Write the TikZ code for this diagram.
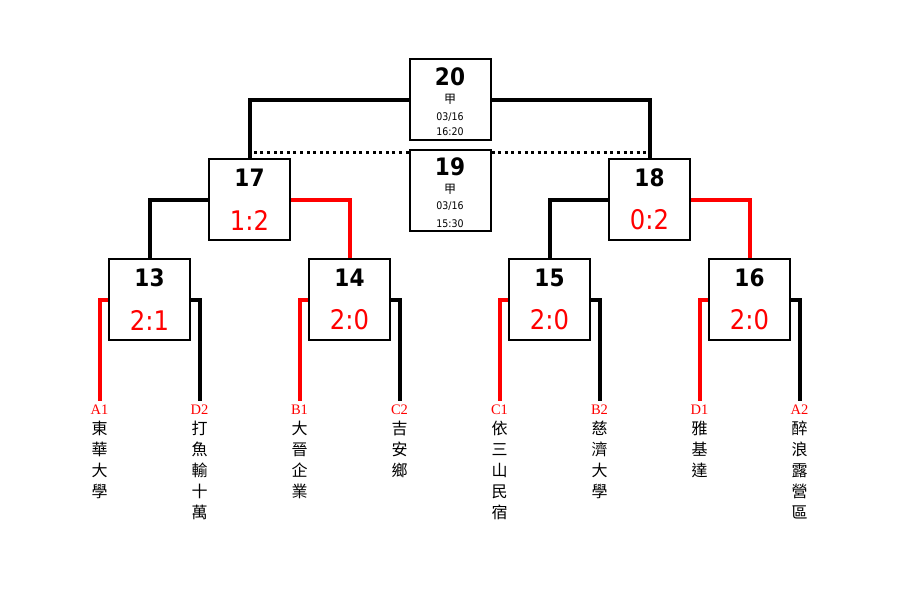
\documentclass[tikz,border=0pt]{standalone}
\usepackage{fontspec}
\usetikzlibrary{calc}
\newfontfamily\numfont{DejaVu Sans Condensed}
\newfontfamily\cjk{Noto Sans CJK TC}
\newfontfamily\serifl{Liberation Serif}
\tikzset{
  box/.style={draw, line width=2pt, fill=white, minimum width=81pt, minimum height=81pt, inner sep=0pt},
  num/.style={inner sep=0pt, font=\numfont\bfseries\fontsize{24}{24}\selectfont},
  score/.style={inner sep=0pt, text=red, font=\numfont\fontsize{27}{27}\selectfont},
  small/.style={inner sep=0pt, font=\numfont\fontsize{10.5}{10.5}\selectfont},
  smallcjk/.style={inner sep=0pt, font=\cjk\fontsize{12}{12}\selectfont},
  win/.style={line width=4pt, red},
  lose/.style={line width=4pt, black},
  dotline/.style={line width=3pt, dash pattern=on 3pt off 3.6pt},
  seed/.style={inner sep=0pt, anchor=base, text=red, font=\serifl\fontsize{14.5}{14.5}\selectfont},
  team/.style={inner sep=0pt, anchor=north, align=center, font=\cjk\fontsize{16}{21}\selectfont},
}
\begin{document}
\begin{tikzpicture}[x=1pt,y=-1pt]
\useasboundingbox (0,0) rectangle (900,600);

% boxes
\node[box] (b20) at (450,99.5) {};
\node[box] (b19) at (450,190) {};
\node[box] (b17) at (249.5,199.5) {};
\node[box] (b18) at (649.5,199.5) {};
\node[box] (b13) at (149.5,299.5) {};
\node[box] (b14) at (349.5,299.5) {};
\node[box] (b15) at (549.5,299.5) {};
\node[box] (b16) at (749.5,299.5) {};

% seeds
\node[seed] (sA1) at (99.5,414) {A1};
\node[seed] (sD2) at (199.5,414) {D2};
\node[seed] (sB1) at (299.5,414) {B1};
\node[seed] (sC2) at (399.5,414) {C2};
\node[seed] (sC1) at (499.5,414) {C1};
\node[seed] (sB2) at (599.5,414) {B2};
\node[seed] (sD1) at (699.5,414) {D1};
\node[seed] (sA2) at (799.5,414) {A2};

% team names
\node[team] (tA1) at (99.5,421) {東\\華\\大\\學};
\node[team] (tD2) at (199.5,421) {打\\魚\\輸\\十\\萬};
\node[team] (tB1) at (299.5,421) {大\\晉\\企\\業};
\node[team] (tC2) at (399.5,421) {吉\\安\\鄉};
\node[team] (tC1) at (499.5,421) {依\\三\\山\\民\\宿};
\node[team] (tB2) at (599.5,421) {慈\\濟\\大\\學};
\node[team] (tD1) at (699.5,421) {雅\\基\\達};
\node[team] (tA2) at (799.5,421) {醉\\浪\\露\\營\\區};

% connectors
\coordinate (dL) at ($(b19.north west)+(0,4)$);
\coordinate (dR) at ($(b19.north east)+(0,4)$);
\draw[lose] (b20.west) -| (b17.north);
\draw[lose] (b20.east) -| (b18.north);
\draw[dotline] (dL) -- (dL -| b17.north);
\draw[dotline] (dR) -- (dR -| b18.north);
\draw[lose] (b17.west) -| (b13.north);
\draw[win] (b17.east) -| (b14.north);
\draw[lose] (b18.west) -| (b15.north);
\draw[win] (b18.east) -| (b16.north);
\draw[win] (b13.west) -| ($(sA1.north)+(0,-3)$);
\draw[lose] (b13.east) -| ($(sD2.north)+(0,-3)$);
\draw[win] (b14.west) -| ($(sB1.north)+(0,-3)$);
\draw[lose] (b14.east) -| ($(sC2.north)+(0,-3)$);
\draw[win] (b15.west) -| ($(sC1.north)+(0,-3)$);
\draw[lose] (b15.east) -| ($(sB2.north)+(0,-3)$);
\draw[win] (b16.west) -| ($(sD1.north)+(0,-3)$);
\draw[lose] (b16.east) -| ($(sA2.north)+(0,-3)$);

% box texts
\node[num] (n20) at (450,76.5) {20};
\node[smallcjk] (g20) at (450,99.5) {甲};
\node[small] (d20) at (450,117.5) {03/16};
\node[small] (h20) at (450,131.5) {16:20};
\node[num] (n19) at (450,166.5) {19};
\node[smallcjk] (g19) at (450,189) {甲};
\node[small] (d19) at (450,206.5) {03/16};
\node[small] (h19) at (450,223.5) {15:30};

\node[num] (n17) at (249.5,178) {17};
\node[score] (s17) at (249.5,220) {1:2};
\node[num] (n18) at (649.5,178) {18};
\node[score] (s18) at (649.5,220) {0:2};
\node[num] (n13) at (149.5,278) {13};
\node[score] (s13) at (149.5,320) {2:1};
\node[num] (n14) at (349.5,278) {14};
\node[score] (s14) at (349.5,320) {2:0};
\node[num] (n15) at (549.5,278) {15};
\node[score] (s15) at (549.5,320) {2:0};
\node[num] (n16) at (749.5,278) {16};
\node[score] (s16) at (749.5,320) {2:0};
\end{tikzpicture}
\end{document}
